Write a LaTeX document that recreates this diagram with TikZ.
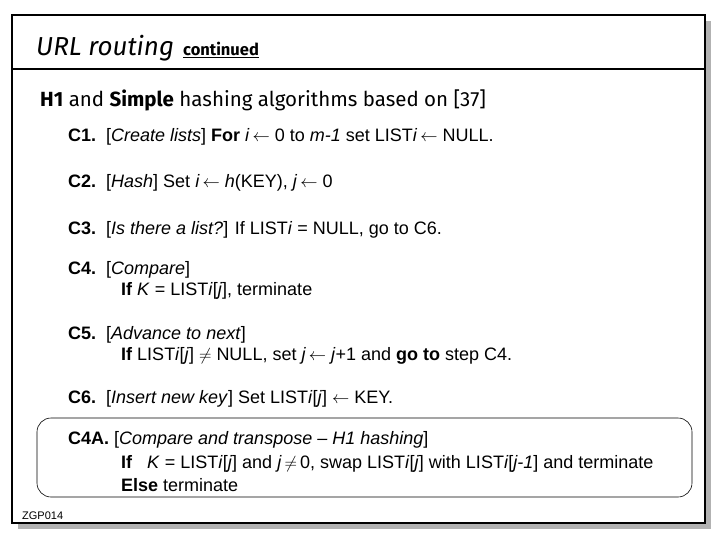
\documentclass[tikz,border=0pt]{standalone}
\usepackage{fontspec}
\setmainfont{Liberation Sans}
\newfontfamily\comic{Fira Sans}
\begin{document}
\begin{tikzpicture}[x=1pt,y=-1pt,
  txt/.style={anchor=base west,inner sep=0pt,font=\fontsize{18}{21}\selectfont},
  sub/.style={anchor=base west,inner sep=0pt,font=\fontsize{18}{21}\selectfont}]
\useasboundingbox (0,0) rectangle (720,540);
\fill[gray!60] (18,21) rectangle (711,529);
\fill[white] (12,15) rectangle (705,523);
\draw[line width=1.2pt] (12,15) rectangle (705,523);
\draw[line width=1.2pt] (12,69) -- (705,69);
\node[anchor=base west,inner sep=0pt,font=\comic\itshape\fontsize{26}{29}\selectfont] (title) at (36,56) {URL routing};
\node[anchor=base west,inner sep=0pt,font=\comic\bfseries\fontsize{16.5}{19}\selectfont] (cont) at (183,56) {\underline{continued}};
\node[anchor=base west,inner sep=0pt,font=\comic\fontsize{20.5}{23}\selectfont] (head) at (40,107) {\textbf{H1} and \textbf{Simple} hashing algorithms based on [37]};
\node[txt] (c1) at (68,142) {\textbf{C1.}\ \ [\textit{Create lists}] \textbf{For} \textit{i}\,$\leftarrow$\ 0 to \textit{m-1} set LIST\textit{i}\,$\leftarrow$\ NULL.};
\node[txt] (c2) at (68,188) {\textbf{C2.}\ \ [\textit{Hash}] Set \textit{i}\,$\leftarrow$\ \textit{h}(KEY), \textit{j}\,$\leftarrow$\ 0};
\node[txt] (c3) at (68,234) {\textbf{C3.}\ \ [\textit{Is there a list?}] If LIST\textit{i} = NULL, go to C6.};
\node[txt] (c4) at (68,274) {\textbf{C4.}\ \ [\textit{Compare}]};
\node[sub] (c4b) at (121,295) {\textbf{If} \textit{K} = LIST\textit{i}[\textit{j}], terminate};
\node[txt] (c5) at (68,339) {\textbf{C5.}\ \ [\textit{Advance to next}]};
\node[sub] (c5b) at (121,360) {\textbf{If} LIST\textit{i}[\textit{j}] $\neq$ NULL, set \textit{j}\,$\leftarrow$\ \textit{j}+1 and \textbf{go to} step C4.};
\node[txt] (c6) at (68,403) {\textbf{C6.}\ \ [\textit{Insert new key}] Set LIST\textit{i}[\textit{j}] $\leftarrow$ KEY.};
\draw[rounded corners=14pt, line width=0.6pt] (37,418) rectangle (692,497);
\node[txt] (c4a) at (68,444) {\textbf{C4A.} [\textit{Compare and transpose -- H1 hashing}]};
\node[sub] (c4ab) at (121,468) {\textbf{If}\ \ \ \textit{K} = LIST\textit{i}[\textit{j}] and \textit{j}\,$\neq$\,0, swap LIST\textit{i}[\textit{j}] with LIST\textit{i}[\textit{j-1}] and terminate};
\node[sub] (c4ac) at (121,491) {\textbf{Else} terminate};
\node[anchor=base west,inner sep=0pt,font=\fontsize{11}{13}\selectfont] (zgp) at (22,519) {ZGP014};
\end{tikzpicture}
\end{document}
